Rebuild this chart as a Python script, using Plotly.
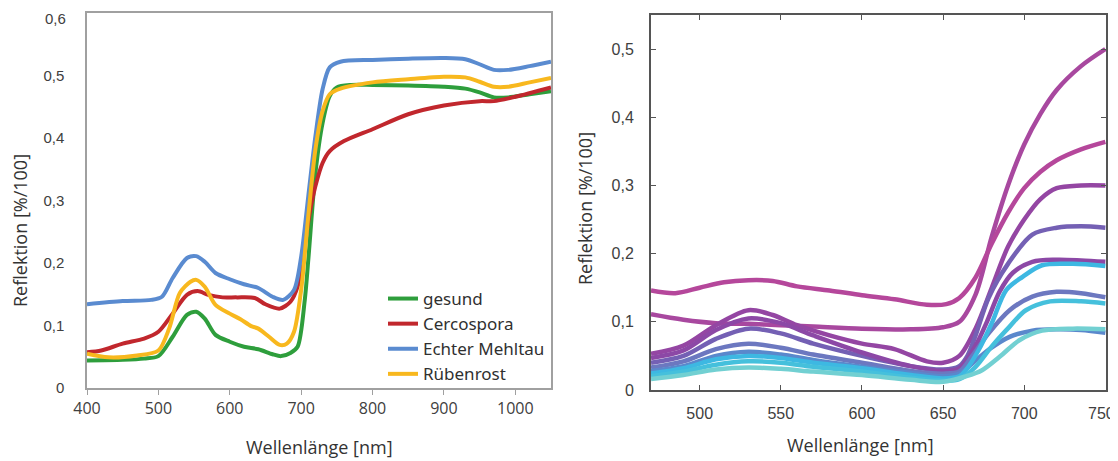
import plotly.graph_objects as go

# ---------------- Left panel data ----------------
L_NAMES = ["gesund", "Cercospora", "Echter Mehltau", "Rübenrost"]
L_COLORS = ["#2e9e3c", "#c1272d", "#5a8bd0", "#f8b81e"]

gesund_x = [400, 450, 480, 500, 520, 540, 553, 565, 580, 600, 620, 640, 660, 672, 685, 695, 705, 710, 720, 730, 740, 750, 770, 800, 850, 900, 930, 950, 970, 990, 1020, 1050]
gesund_y = [0.044, 0.045, 0.047, 0.051, 0.082, 0.117, 0.122, 0.111, 0.085, 0.074, 0.066, 0.062, 0.054, 0.051, 0.056, 0.066, 0.140, 0.205, 0.344, 0.424, 0.467, 0.481, 0.485, 0.485, 0.484, 0.482, 0.479, 0.473, 0.465, 0.465, 0.470, 0.475]

cerco_x = [400, 420, 450, 480, 500, 520, 540, 555, 570, 590, 610, 635, 650, 670, 685, 695, 705, 712, 720, 730, 740, 760, 800, 850, 900, 950, 970, 1000, 1050]
cerco_y = [0.057, 0.060, 0.071, 0.079, 0.090, 0.119, 0.149, 0.155, 0.149, 0.145, 0.145, 0.144, 0.134, 0.127, 0.138, 0.162, 0.229, 0.280, 0.323, 0.360, 0.379, 0.395, 0.414, 0.438, 0.452, 0.459, 0.459, 0.466, 0.481]

mehltau_x = [400, 450, 490, 505, 520, 540, 553, 565, 580, 600, 620, 640, 660, 675, 690, 700, 710, 720, 730, 740, 755, 800, 850, 900, 930, 950, 970, 990, 1020, 1050]
mehltau_y = [0.134, 0.139, 0.141, 0.146, 0.176, 0.208, 0.211, 0.202, 0.184, 0.174, 0.166, 0.160, 0.146, 0.141, 0.157, 0.210, 0.307, 0.403, 0.478, 0.513, 0.522, 0.525, 0.527, 0.528, 0.526, 0.518, 0.509, 0.509, 0.515, 0.522]

rost_x = [400, 430, 470, 500, 515, 530, 545, 553, 565, 580, 600, 615, 630, 640, 655, 670, 680, 690, 700, 710, 720, 730, 740, 755, 800, 850, 900, 930, 950, 970, 990, 1020, 1050]
rost_y = [0.055, 0.049, 0.052, 0.060, 0.095, 0.152, 0.170, 0.173, 0.162, 0.133, 0.119, 0.110, 0.099, 0.095, 0.082, 0.069, 0.071, 0.090, 0.157, 0.275, 0.382, 0.443, 0.470, 0.479, 0.489, 0.494, 0.498, 0.497, 0.490, 0.482, 0.482, 0.489, 0.496]

L_X = [gesund_x, cerco_x, mehltau_x, rost_x]
L_Y = [gesund_y, cerco_y, mehltau_y, rost_y]

L_XTICKS = [400, 500, 600, 700, 800, 900, 1000]
L_YTICKS = [0, 0.1, 0.2, 0.3, 0.4, 0.5, 0.6]

# ---------------- Right panel data ----------------
R_COLORS = ["#a8489f", "#b5479b", "#9446a3", "#7460b4", "#8c48a6",
            "#6c78c0", "#5a88cc", "#3db8e2", "#45c0dc", "#72d0d2"]

r1_x = [470, 490, 510, 530, 550, 570, 600, 630, 650, 660, 670, 680, 690, 700, 710, 720, 735, 750]
r1_y = [0.111, 0.103, 0.098, 0.097, 0.095, 0.093, 0.090, 0.089, 0.092, 0.100, 0.140, 0.225, 0.300, 0.360, 0.405, 0.440, 0.475, 0.500]

r2_x = [470, 485, 500, 515, 530, 545, 560, 580, 600, 620, 640, 652, 660, 670, 680, 690, 700, 710, 720, 735, 750]
r2_y = [0.146, 0.142, 0.150, 0.158, 0.161, 0.160, 0.152, 0.146, 0.139, 0.133, 0.125, 0.126, 0.135, 0.165, 0.215, 0.260, 0.296, 0.320, 0.337, 0.353, 0.364]

r3_x = [470, 490, 510, 530, 545, 560, 580, 600, 620, 640, 650, 660, 670, 680, 690, 700, 710, 720, 735, 750]
r3_y = [0.053, 0.065, 0.095, 0.117, 0.110, 0.095, 0.080, 0.068, 0.060, 0.042, 0.040, 0.050, 0.090, 0.150, 0.210, 0.250, 0.280, 0.296, 0.300, 0.300]

r4_x = [470, 490, 510, 530, 550, 570, 600, 630, 650, 660, 665, 670, 678, 690, 705, 720, 735, 750]
r4_y = [0.040, 0.050, 0.075, 0.090, 0.083, 0.068, 0.050, 0.035, 0.030, 0.035, 0.050, 0.080, 0.135, 0.185, 0.228, 0.238, 0.240, 0.238]

r5_x = [470, 490, 510, 530, 550, 570, 600, 630, 650, 660, 670, 677, 685, 693, 705, 720, 735, 750]
r5_y = [0.047, 0.058, 0.088, 0.105, 0.098, 0.080, 0.055, 0.035, 0.028, 0.032, 0.065, 0.100, 0.145, 0.172, 0.188, 0.191, 0.190, 0.188]

r6_x = [470, 490, 510, 530, 550, 570, 600, 630, 650, 660, 668, 678, 691, 705, 720, 735, 750]
r6_y = [0.033, 0.042, 0.060, 0.068, 0.062, 0.052, 0.040, 0.028, 0.024, 0.027, 0.050, 0.083, 0.117, 0.137, 0.144, 0.142, 0.136]

r7_x = [470, 490, 510, 530, 550, 570, 600, 630, 650, 660, 668, 678, 691, 705, 720, 735, 750]
r7_y = [0.028, 0.035, 0.050, 0.056, 0.052, 0.044, 0.034, 0.025, 0.020, 0.024, 0.039, 0.059, 0.078, 0.087, 0.089, 0.088, 0.084]

r8_x = [470, 490, 510, 530, 550, 570, 600, 630, 650, 660, 664, 672, 680, 689, 699, 711, 730, 750]
r8_y = [0.024, 0.032, 0.045, 0.050, 0.047, 0.040, 0.032, 0.022, 0.017, 0.020, 0.029, 0.059, 0.098, 0.147, 0.166, 0.183, 0.185, 0.182]

r9_x = [470, 490, 510, 530, 550, 570, 600, 630, 650, 660, 670, 680, 691, 701, 716, 735, 750]
r9_y = [0.020, 0.027, 0.037, 0.042, 0.040, 0.034, 0.027, 0.018, 0.014, 0.016, 0.034, 0.064, 0.093, 0.117, 0.130, 0.130, 0.127]

r10_x = [470, 490, 510, 530, 550, 570, 600, 630, 650, 664, 674, 685, 697, 711, 730, 750]
r10_y = [0.016, 0.022, 0.030, 0.033, 0.031, 0.027, 0.022, 0.015, 0.012, 0.020, 0.029, 0.049, 0.073, 0.087, 0.090, 0.089]

R_X = [r1_x, r2_x, r3_x, r4_x, r5_x, r6_x, r7_x, r8_x, r9_x, r10_x]
R_Y = [r1_y, r2_y, r3_y, r4_y, r5_y, r6_y, r7_y, r8_y, r9_y, r10_y]

R_XTICKS = [500, 550, 600, 650, 700, 750]
R_YTICKS = [0, 0.1, 0.2, 0.3, 0.4, 0.5]

X_TITLE = "Wellenlänge [nm]"
Y_TITLE = "Reflektion [%/100]"

# The page body has an 8px margin; the figure is sized so that it fills the window.
OFF = 8
W, H = 1118 - OFF, 461 - OFF

fig = go.Figure()

for xs, ys, c in zip(R_X, R_Y, R_COLORS):
    fig.add_trace(go.Scatter(x=xs, y=ys, mode="lines", xaxis="x2", yaxis="y2",
                             line=dict(color=c, width=4.5, shape="spline", smoothing=0.9),
                             showlegend=False, hoverinfo="skip"))

for xs, ys, c, n in zip(L_X, L_Y, L_COLORS, L_NAMES):
    fig.add_trace(go.Scatter(x=xs, y=ys, mode="lines", name=n, xaxis="x", yaxis="y",
                             legendgroup=n,
                             line=dict(color=c, width=4, shape="spline", smoothing=0.8)))


def px_x(p):
    return (p - OFF) / W


def px_y(p):
    return 1 - (p - OFF) / H


def fmt(v):
    return ("%g" % v).replace(".", ",")


tick_font_ly = dict(family="Liberation Sans, Arial, sans-serif", size=15, color="#404040")
tick_font_lx = dict(family="Open Sans, sans-serif", size=16, color="#404040")
tick_font_r = dict(family="Liberation Sans, Arial, sans-serif", size=16, color="#404040")

# labels that sit at the very edge of the page are drawn as annotations so they stay visible
L_YTICKS_AXIS = L_YTICKS[:-1]
L_YTICK_TOP = L_YTICKS[-1]
R_XTICK_TEXT = [fmt(v) for v in R_XTICKS[:-1]] + [""]
R_XTICK_LAST = R_XTICKS[-1]

fig.update_layout(
    width=W, height=H,
    margin=dict(l=0, r=0, t=0, b=0),
    paper_bgcolor="white", plot_bgcolor="white",
    separators=", ",
    xaxis=dict(domain=[px_x(87), px_x(551)], range=[400, 1050], anchor="y",
               tickvals=L_XTICKS, ticks="outside", ticklen=5, tickcolor="#a0a0a0",
               showline=True, linecolor="#a0a0a0", linewidth=1.5, mirror=True,
               showgrid=False, zeroline=False, tickfont=tick_font_lx, automargin=False,
               ticklabeloverflow="allow"),
    yaxis=dict(domain=[px_y(388), px_y(13)], range=[0, 0.6], anchor="x",
               tickvals=L_YTICKS_AXIS, ticktext=[fmt(v) for v in L_YTICKS_AXIS],
               ticks="", ticklabelstandoff=18,
               showline=True, linecolor="#a0a0a0", linewidth=1.5, mirror=True,
               showgrid=False, zeroline=False, tickfont=tick_font_ly, automargin=False,
               ticklabeloverflow="allow"),
    xaxis2=dict(domain=[px_x(651), px_x(1106)], range=[470, 750.4], anchor="y2",
                tickvals=R_XTICKS, ticktext=R_XTICK_TEXT,
                ticks="inside", ticklen=5, tickcolor="#555555",
                ticklabelstandoff=8,
                showline=True, linecolor="#555555", linewidth=2, mirror="ticks",
                showgrid=False, zeroline=False, tickfont=tick_font_r, automargin=False,
                ticklabeloverflow="allow"),
    yaxis2=dict(domain=[px_y(390), px_y(15)], range=[0, 0.55], anchor="x2",
                tickvals=R_YTICKS, ticks="inside", ticklen=5, tickcolor="#555555",
                ticklabelstandoff=12,
                showline=True, linecolor="#555555", linewidth=2, mirror="ticks",
                showgrid=False, zeroline=False, tickfont=tick_font_r, automargin=False,
                ticklabeloverflow="allow"),
    legend=dict(x=px_x(383), y=px_y(281), xanchor="left", yanchor="top",
                bgcolor="rgba(0,0,0,0)", font=dict(family="Noto Sans, sans-serif", size=17, color="#303030"),
                tracegroupgap=0, itemwidth=30),
    showlegend=True,
)

fig.add_annotation(text=fmt(L_YTICK_TOP), x=px_x(68), y=px_y(18), xref="paper", yref="paper",
                   showarrow=False, font=tick_font_ly, xanchor="right", yanchor="middle")
fig.add_annotation(text=fmt(R_XTICK_LAST), x=px_x(1117), y=px_y(413), xref="paper", yref="paper",
                   showarrow=False, font=tick_font_r, xanchor="right", yanchor="middle")

title_font = dict(family="Open Sans, sans-serif", size=18, color="#333333")
fig.add_annotation(text=X_TITLE, x=px_x(319), y=px_y(447), xref="paper", yref="paper",
                   showarrow=False, font=title_font, xanchor="center", yanchor="middle")
fig.add_annotation(text=Y_TITLE, x=px_x(20), y=px_y(231), xref="paper", yref="paper",
                   showarrow=False, font=title_font, xanchor="center", yanchor="middle", textangle=-90)
fig.add_annotation(text=X_TITLE, x=px_x(860), y=px_y(445), xref="paper", yref="paper",
                   showarrow=False, font=title_font, xanchor="center", yanchor="middle")
fig.add_annotation(text=Y_TITLE, x=px_x(585), y=px_y(209), xref="paper", yref="paper",
                   showarrow=False, font=title_font, xanchor="center", yanchor="middle", textangle=-90)

fig.write_html("out.html")
